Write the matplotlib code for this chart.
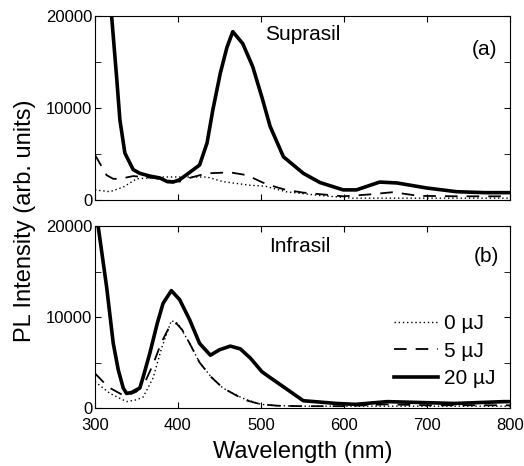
import matplotlib.pyplot as plt
from matplotlib.ticker import MultipleLocator

plt.rcParams['font.family'] = ['Liberation Sans', 'DejaVu Sans']

# Suprasil (a)
wl_a20 = [316, 320, 326, 330, 336, 346, 354, 366, 378, 387, 394, 402, 414, 426, 435, 442, 451, 459, 466,
          478, 490, 501, 511, 527, 551, 571, 599, 615, 643, 664, 700, 736, 770, 800]
a20 = [21500, 20000, 13400, 8700, 5100, 3300, 2900, 2600, 2400, 2000, 1950, 2200, 3000, 3800, 6200, 9800,
       13800, 16600, 18300, 17000, 14500, 11200, 8000, 4700, 2900, 1900, 1100, 1100, 1950, 1850, 1300, 900, 800, 800]
wl_a5 = [300, 307, 314, 322, 330, 346, 370, 390, 402, 414, 435, 463, 483, 502, 511, 530, 551, 599,
         630, 659, 690, 740, 800]
a5 = [4900, 3800, 2700, 2300, 2300, 2600, 2400, 2100, 2000, 2400, 2900, 3000, 2700, 1900, 1600, 1100, 800,
      400, 600, 850, 450, 400, 400]
wl_a0 = [300, 318, 334, 350, 380, 414, 435, 454, 487, 505, 530, 570, 610, 700, 800]
a0 = [1100, 900, 1400, 2300, 2500, 2500, 2500, 2000, 1600, 1500, 900, 500, 200, 200, 200]

# Infrasil (b)
wl_b20 = [303, 314, 322, 328, 334, 338, 344, 354, 358, 366, 375, 382, 392, 402, 414, 426, 439, 450,
          463, 475, 487, 501, 507, 551, 591, 614, 652, 693, 733, 793, 800]
b20 = [20500, 13300, 7100, 4200, 2200, 1600, 1700, 2200, 3400, 6000, 9300, 11500, 12900, 11900, 9700,
       7100, 5800, 6400, 6800, 6500, 5500, 4000, 3600, 800, 500, 400, 700, 600, 500, 700, 700]
wl_b5 = [300, 316, 334, 342, 350, 360, 370, 380, 390, 398, 405, 414, 426, 440, 454, 466, 480, 500,
         520, 550, 600, 650, 700, 800]
b5 = [3800, 2300, 1400, 1500, 1800, 2800, 4800, 7200, 9000, 9300, 8600, 7100, 5000, 3400, 2200, 1600,
      900, 400, 250, 200, 200, 400, 300, 300]
wl_b0 = [300, 318, 338, 350, 358, 370, 380, 392, 400, 414, 426, 440, 454, 466, 480, 500, 520, 550, 600, 800]
b0 = [2900, 1600, 700, 900, 1200, 3300, 6500, 9600, 9300, 7100, 5000, 3400, 2200, 1600, 1000, 400, 250,
      200, 200, 200]

energies = ['0 \u00b5J', '5 \u00b5J', '20 \u00b5J']

fig = plt.figure(figsize=(5.24, 4.66), dpi=100)
ax1 = fig.add_axes([95 / 524, 1 - 200 / 466, 415 / 524, 184 / 466])
ax2 = fig.add_axes([95 / 524, 1 - 408 / 466, 415 / 524, 182 / 466])

styles = [dict(linestyle=(0, (1, 2)), linewidth=1),
          dict(linestyle=(0, (7, 5)), linewidth=1.3),
          dict(linestyle='-', linewidth=2.6)]

for ax in (ax1, ax2):
    ax.set_xlim(300, 800)
    ax.set_ylim(0, 20000)
    ax.xaxis.set_major_locator(MultipleLocator(100))
    ax.yaxis.set_major_locator(MultipleLocator(10000))
    ax.yaxis.set_minor_locator(MultipleLocator(5000))
    ax.tick_params(which='both', direction='in', top=True, right=True, labelsize=12, length=4)
    ax.tick_params(axis='y', pad=2)
    ax.tick_params(axis='x', pad=7)

ax1.plot(wl_a0, a0, color='black', **styles[0])
ax1.plot(wl_a5, a5, color='black', **styles[1])
ax1.plot(wl_a20, a20, color='black', **styles[2])
ax1.tick_params(labelbottom=False)
ax1.text(0.41, 0.87, 'Suprasil', transform=ax1.transAxes, fontsize=15, va='baseline')
ax1.text(0.969, 0.788, '(a)', transform=ax1.transAxes, fontsize=15, ha='right', va='baseline')

ax2.plot(wl_b0, b0, color='black', label=energies[0], **styles[0])
ax2.plot(wl_b5, b5, color='black', label=energies[1], **styles[1])
ax2.plot(wl_b20, b20, color='black', label=energies[2], **styles[2])
ax2.text(0.419, 0.857, 'Infrasil', transform=ax2.transAxes, fontsize=15, va='baseline')
ax2.text(0.973, 0.80, '(b)', transform=ax2.transAxes, fontsize=15, ha='right', va='baseline')
ax2.legend(loc='lower right', bbox_to_anchor=(0.964, 0.11), frameon=False, fontsize=15,
           handlelength=2.15, handletextpad=0.25, labelspacing=0.4, borderpad=0, borderaxespad=0)

fig.text(302.5 / 524, 1 - 458 / 466, 'Wavelength (nm)', fontsize=17, ha='center', va='baseline')
fig.text(25 / 524, 1 - 221 / 466, 'PL Intensity (arb. units)', rotation=90, fontsize=17,
         ha='center', va='center')

fig.savefig('out.png', dpi=100)
